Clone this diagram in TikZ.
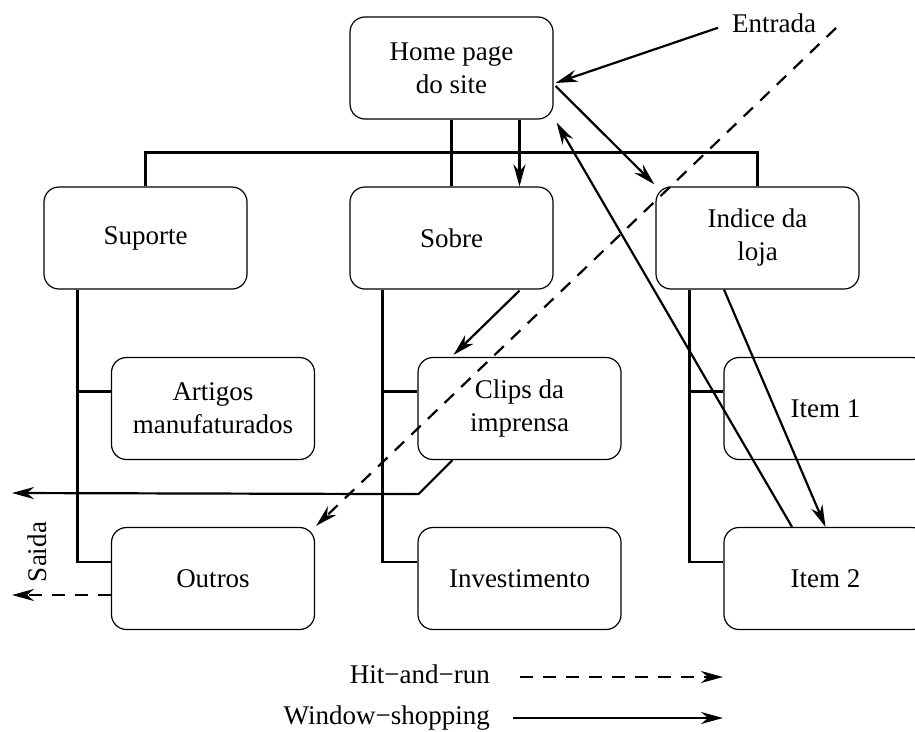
\documentclass[tikz,border=0pt]{standalone}
\usepackage{fontspec}
\setmainfont{Liberation Serif}
\usetikzlibrary{calc,arrows.meta}
\begin{document}
\begin{tikzpicture}[x=1pt,y=-1pt,
  page/.style={draw, rounded corners=15pt, minimum width=203pt, minimum height=102pt,
    line width=1.2pt, align=center, inner sep=0pt, font=\fontsize{27}{33}\selectfont},
  tag/.style={inner sep=0pt, font=\fontsize{27}{33}\selectfont},
  tree/.style={line width=2.2pt},
  tip/.style={-{Stealth[length=22pt,width=12pt,inset=7pt]}},
  walk/.style={line width=2.2pt, tip},
  hitrun/.style={line width=2.2pt, tip, dash pattern=on 13pt off 10pt}]
\clip (0,0) rectangle (915,731);

% site pages
\node[page] (home)    at (451.5,68)  {Home page\\do site};
\node[page] (suporte) at (145.5,238) {Suporte};
\node[page] (sobre)   at (451.5,238) {Sobre};
\node[page] (indice)  at (757.5,238) {Indice da\\loja};
\node[page] (artigos) at (213,408.5) {Artigos\\manufaturados};
\node[page] (clips)   at (519.5,408.5) {Clips da\\imprensa};
\node[page] (item1)   at (825.5,408.5) {Item 1};
\node[page] (outros)  at (213,578.5) {Outros};
\node[page] (invest)  at (519.5,578.5) {Investimento};
\node[page] (item2)   at (825.5,578.5) {Item 2};

% labels
\node[tag, anchor=base west] (entrada) at (732,32) {Entrada};
\node[tag, rotate=90] (saida) at (37,552) {Saida};
\node[tag, anchor=base east] (hitlbl) at (490,683) {Hit−and−run};
\node[tag, anchor=base east] (winlbl) at (490,724) {Window−shopping};

% site hierarchy
\draw[tree] (home.south) -- (sobre.north);
\draw[tree] (suporte.north) -- ++(0,-34) -| (indice.north);
\coordinate (c1) at ($(suporte.south west)+(34,0)$);
\coordinate (c2) at ($(sobre.south west)+(33,0)$);
\coordinate (c3) at ($(indice.south west)+(34,0)$);
\coordinate (b1) at ($(artigos.west)+(0,-17)$);
\coordinate (b2) at ($(clips.west)+(0,-17)$);
\coordinate (b3) at ($(item1.west)+(0,-17)$);
\coordinate (d1) at ($(outros.west)+(0,-16.5)$);
\coordinate (d2) at ($(invest.west)+(0,-16.5)$);
\coordinate (d3) at ($(item2.west)+(0,-16.5)$);
\draw[tree] (c1) |- (d1);
\draw[tree] (c2) |- (d2);
\draw[tree] (c3) |- (d3);
\draw[tree] (c1 |- b1) -- (b1);
\draw[tree] (c2 |- b2) -- (b2);
\draw[tree] (c3 |- b3) -- (b3);

% window-shopping path
\coordinate (exitw) at (12,493);
\draw[walk] ($(entrada.west)+(-14,5)$) -- ($(home.east)+(2,15)$);
\draw[walk] ($(home.east)+(2,18)$) -- ($(indice.north west)+(-1,-2)$);
\draw[walk] ($(home.south)+(68,0)$) -- ($(sobre.north)+(68,0)$);
\draw[walk] ($(sobre.south)+(68,1)$) -- ($(clips.north)+(-66,-2)$);
\draw[walk] ($(indice.south)+(-33.5,0)$) -- (item2.north);
\draw[walk] ($(item2.north)+(-33.5,0)$) -- ($(home.south east)+(3,3)$);
\draw[walk] ($(clips.south)+(-67,0)$) -- ++(-34,34) -- (exitw);

% hit-and-run path
\coordinate (hitin) at (836,28);
\coordinate (exith) at (12,595);
\draw[hitrun] (hitin) -- ($(outros.north east)+(1,-1)$);
\draw[hitrun] ($(outros.west)+(0,16.5)$) -- (exith);

% legend
\coordinate (h1) at (520,677);
\coordinate (h2) at (723,677);
\coordinate (w1) at (513,718);
\coordinate (w2) at (723,718);
\draw[hitrun] (h1) -- (h2);
\draw[walk] (w1) -- (w2);
\end{tikzpicture}
\end{document}
